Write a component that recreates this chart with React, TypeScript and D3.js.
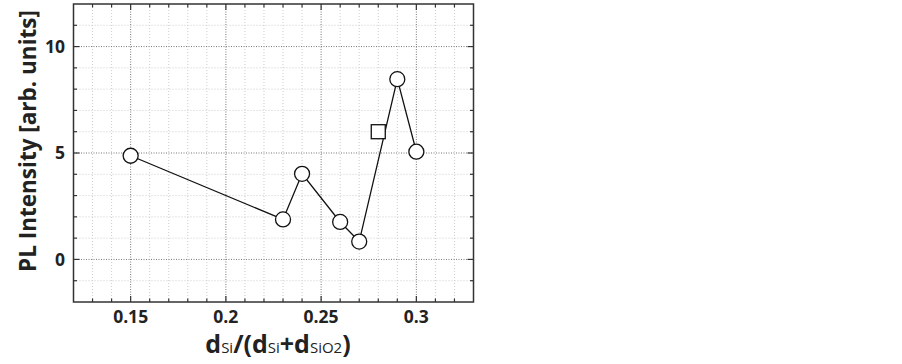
import React from "react";
import * as d3 from "d3";

const xCircle = [0.15, 0.23, 0.24, 0.26, 0.27, 0.29, 0.3];
const yCircle = [4.87, 1.88, 4.02, 1.76, 0.84, 8.47, 5.06];
const xSquare = [0.28];
const ySquare = [6.0];
const xMajorTicks = [0.15, 0.2, 0.25, 0.3];
const xTickLabels = ["0.15", "0.2", "0.25", "0.3"];
const yMajorTicks = [0, 5, 10];
const yTickLabels = ["0", "5", "10"];

export default function App() {
  const W = 902, H = 364;
  const L = 73.5, R = 473.5, T = 4, B = 302;
  const x = d3.scaleLinear().domain([0.12, 0.33]).range([L, R]);
  const y = d3.scaleLinear().domain([-2, 12]).range([B, T]);
  const xMinor = d3.range(13, 33).map((v) => v / 100);
  const yMinor = d3.range(-1, 12);
  const line = d3
    .line<number>()
    .x((_, i) => x(xCircle[i]))
    .y((d) => y(d));
  const font = "'Open Sans', 'DejaVu Sans', sans-serif";
  const isMajorX = (v: number) => xMajorTicks.some((m) => Math.abs(m - v) < 1e-6);
  const isMajorY = (v: number) => yMajorTicks.includes(v);
  return (
    <svg width={W} height={H} style={{ position: "absolute", left: 0, top: 0 }}>
      <rect x={0} y={0} width={W} height={H} fill="#fff" />
      {/* minor grid */}
      {xMinor.filter((v) => !isMajorX(v)).map((v) => (
        <line key={"gx" + v} x1={x(v)} x2={x(v)} y1={T} y2={B} stroke="#ccc" strokeWidth={1} strokeDasharray="1,2" />
      ))}
      {yMinor.filter((v) => !isMajorY(v)).map((v) => (
        <line key={"gy" + v} x1={L} x2={R} y1={y(v)} y2={y(v)} stroke="#ccc" strokeWidth={1} strokeDasharray="1,2" />
      ))}
      {xMajorTicks.map((v) => (
        <line key={"Gx" + v} x1={x(v)} x2={x(v)} y1={T} y2={B} stroke="#777" strokeWidth={1} strokeDasharray="1,1.5" />
      ))}
      {yMajorTicks.map((v) => (
        <line key={"Gy" + v} x1={L} x2={R} y1={y(v)} y2={y(v)} stroke="#777" strokeWidth={1} strokeDasharray="1,1.5" />
      ))}
      {/* ticks */}
      {xMinor.map((v) => {
        const len = isMajorX(v) ? 6 : 3.5;
        return (
          <g key={"tx" + v} stroke="#333" strokeWidth={1.2}>
            <line x1={x(v)} x2={x(v)} y1={B} y2={B - len} />
            <line x1={x(v)} x2={x(v)} y1={T} y2={T + len} />
          </g>
        );
      })}
      {yMinor.map((v) => {
        const len = isMajorY(v) ? 6 : 3.5;
        return (
          <g key={"ty" + v} stroke="#333" strokeWidth={1.2}>
            <line x1={L} x2={L + len} y1={y(v)} y2={y(v)} />
            <line x1={R} x2={R - len} y1={y(v)} y2={y(v)} />
          </g>
        );
      })}
      <rect x={L} y={T} width={R - L} height={B - T} fill="none" stroke="#333" strokeWidth={1.5} />
      {/* data line */}
      <path d={line(yCircle) || ""} fill="none" stroke="#111" strokeWidth={1.3} />
      {xCircle.map((v, i) => (
        <circle key={"c" + i} cx={x(v)} cy={y(yCircle[i])} r={7.5} fill="#fff" stroke="#111" strokeWidth={1.3} />
      ))}
      {xSquare.map((v, i) => (
        <rect key={"s" + i} x={x(v) - 7} y={y(ySquare[i]) - 7} width={14} height={14} fill="#fff" stroke="#111" strokeWidth={1.3} />
      ))}
      {/* tick labels */}
      {xMajorTicks.map((v, i) => (
        <text key={"lx" + v} x={x(v)} y={322.5} textAnchor="middle" fontFamily={font} fontWeight="bold" fontSize={17.5} fill="#222">
          {xTickLabels[i]}
        </text>
      ))}
      {yMajorTicks.map((v, i) => (
        <text key={"ly" + v} x={65} y={y(v)} dy="0.36em" textAnchor="end" fontFamily={font} fontWeight="bold" fontSize={17.5} fill="#222">
          {yTickLabels[i]}
        </text>
      ))}
      {/* axis titles */}
      <text x={278} y={353} textAnchor="middle" fontFamily={font} fontWeight="bold" fontSize={25} fill="#222">
        d<tspan fontSize={15} fontWeight="normal">Si</tspan>/(d<tspan fontSize={15} fontWeight="normal">Si</tspan>+d<tspan fontSize={15} fontWeight="normal">SiO2</tspan>)
      </text>
      <text transform={`translate(36,141) rotate(-90)`} textAnchor="middle" fontFamily={font} fontWeight="bold" fontSize={22.5} fill="#222">
        PL Intensity [arb. units]
      </text>
    </svg>
  );
}
